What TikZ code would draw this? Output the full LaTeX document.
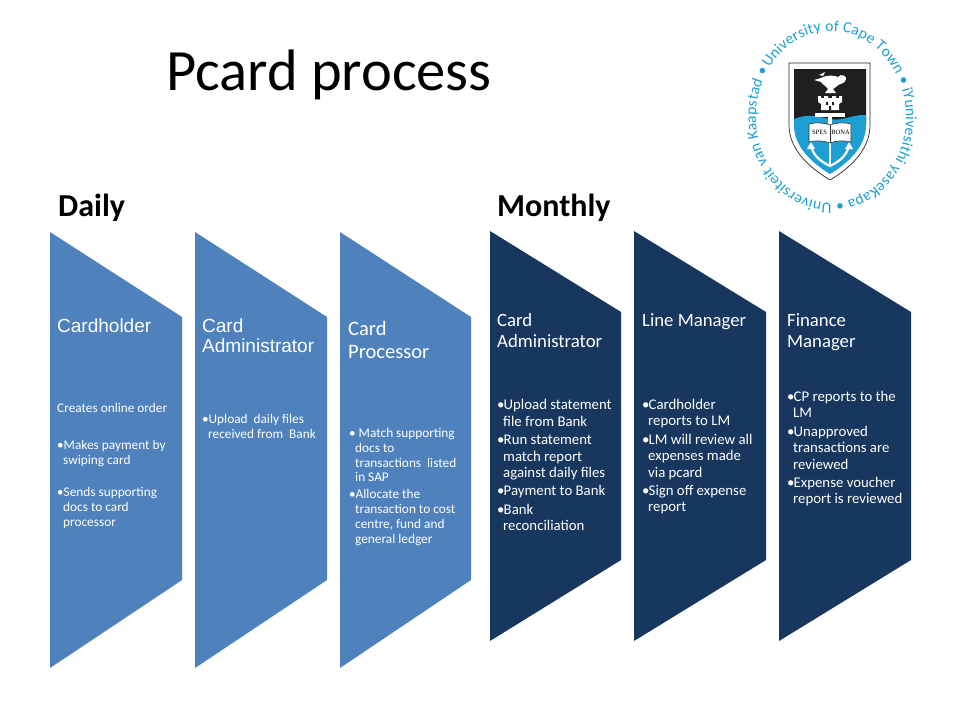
\documentclass[tikz,border=0pt]{standalone}
\usepackage{fontspec}
\setmainfont{Carlito}
\newfontfamily\arialfont{Liberation Sans}
\newfontfamily\bookfont{Liberation Serif}
\usepackage{xcolor}
\usetikzlibrary{decorations.text, positioning}
\definecolor{lightblue}{HTML}{4F81BD}
\definecolor{darkblue}{HTML}{17375E}
\definecolor{capeblue}{HTML}{1E9FD3}
\newcommand{\bul}{\makebox[6.5pt][l]{\textbullet}}
\newcommand{\ind}{\hspace*{6pt}}
\tikzset{
  lightpanel/.style={fill=lightblue},
  darkpanel/.style={fill=darkblue},
  heading/.style={anchor=north west, inner sep=0pt, align=left, text=white, font=\fontsize{18.75}{21}\selectfont},
  arialhead/.style={heading, font=\arialfont\fontsize{19}{20}\selectfont},
  smallbody/.style={anchor=north west, inner sep=0pt, align=left, text=white, font=\fontsize{13.3}{14.8}\selectfont},
  bigbody/.style={anchor=north west, inner sep=0pt, align=left, text=white, font=\fontsize{14.8}{16.4}\selectfont},
  section/.style={anchor=west, inner sep=0pt, font=\bfseries\fontsize{32}{38}\selectfont}
}
\begin{document}
\begin{tikzpicture}[x=1pt,y=-1pt]
\useasboundingbox (0,0) rectangle (960,720);
% panels
\foreach \x/\w in {50/132,195/132,340/131}
  \fill[lightpanel] (\x,232) -- ++(\w,85) -- ++(0,263) -- ++(-\w,88) -- cycle;
\foreach \x/\w in {490/131,634/132,779/132}
  \fill[darkpanel] (\x,231) -- ++(\w,81) -- ++(0,248) -- ++(-\w,81) -- cycle;
% titles
\node[anchor=west, inner sep=0pt, font=\fontsize{58.5}{70}\selectfont] (title) at (166,75) {Pcard process};
\node[section] (daily) at (58,208) {Daily};
\node[section] (monthly) at (497,208) {Monthly};
% headings
\node[arialhead] (holder) at (57,319) {Cardholder};
\node[arialhead] (admin) at (202,319) {Card\\Administrator};
\node[heading, font=\fontsize{20.5}{23}\selectfont] (proc) at (348,321) {Card\\Processor};
\node[heading] (adminb) at (497,313) {Card\\Administrator};
\node[heading] (line) at (642,313) {Line Manager};
\node[heading] (fin) at (787,313) {Finance\\Manager};
% body text
\node[smallbody] (holdertxt) at (57,403) {Creates online order\\[22pt]
  \bul Makes payment by\\ \ind swiping card\\[18pt]
  \bul Sends supporting\\ \ind docs to card\\ \ind processor};
\node[smallbody] (admintxt) at (202,414) {\bul Upload\ \ daily files\\ \ind received from\ \ Bank};
\node[smallbody] (proctxt) at (349,428) {\bul\ Match supporting\\ \ind docs to\\ \ind transactions\ \ listed\\ \ind in SAP\\[2pt]
  \bul Allocate the\\ \ind transaction to cost\\ \ind centre, fund and\\ \ind general ledger};
\node[bigbody] (adminbtxt) at (497,399.5) {\bul Upload statement\\ \ind file from Bank\\[2pt]
  \bul Run statement\\ \ind match report\\ \ind against daily files\\[2pt]
  \bul Payment to Bank\\[2pt]
  \bul Bank\\ \ind reconciliation};
\node[bigbody] (linetxt) at (642,399) {\bul Cardholder\\ \ind reports to LM\\[2pt]
  \bul LM will review all\\ \ind expenses made\\ \ind via pcard\\[2pt]
  \bul Sign off expense\\ \ind report};
\node[bigbody] (fintxt) at (787,391) {\bul CP reports to the\\ \ind LM\\[2pt]
  \bul Unapproved\\ \ind transactions are\\ \ind reviewed\\[2pt]
  \bul Expense voucher\\ \ind report is reviewed};
% ring of the crest
\begin{scope}[shift={(831,117)},y=1pt]
\path[decorate, decoration={text along path, text align={fit to path},
  text={|\fontsize{15.6}{18}\selectfont\color{capeblue}|University of Cape Town • iYunivesithi yaseKapa • Universiteit van Kaapstad •}}]
  (145:75pt and 86pt) arc[start angle=145, delta angle=-358, x radius=75pt, y radius=86pt];
\end{scope}
% crest
\draw[black!85, line width=0.7pt, fill=white] (789,63) -- (870,63) -- (870,125) .. controls (870,150) and (850,168) .. (830,180) .. controls (810,168) and (789,150) .. (789,125) -- cycle;
\begin{scope}
\clip (794,69) -- (866,69) -- (866,125) .. controls (866,147) and (848,163) .. (830,174) .. controls (812,163) and (794,147) .. (794,125) -- cycle;
\fill[black!88] (790,65) rectangle (870,125);
\fill[capeblue] (790,180) -- (790,121) .. controls (805,113) and (815,116) .. (830,119) .. controls (845,122) and (855,112) .. (870,116) -- (870,180) -- cycle;
\end{scope}
% lamp
\fill[white] (821,78) .. controls (826,75) and (834,75) .. (838,77) .. controls (841,73) and (847,76) .. (846,79) .. controls (845,84) and (841,83) .. (838,85) .. controls (836,88) and (833,88) .. (833,89) -- (836,93) -- (825,93) -- (828,89) .. controls (826,86) and (822,84) .. (821,82) -- (814,80) -- cycle;
\fill[white] (819,75) -- (825,72) -- (823,76) -- cycle;
% castle
\fill[white] (818,96) -- (821,96) -- (821,98) -- (824,98) -- (824,96) -- (828,96) -- (828,98) -- (832,98) -- (832,96) -- (836,96) -- (836,98) -- (839,98) -- (839,96) -- (842,96) -- (842,102) -- (839,104) -- (839,110) -- (821,110) -- (821,104) -- (818,102) -- cycle;
\fill[black!88] (826,102) rectangle (828,105) (832,102) rectangle (834,105) (829,106) rectangle (831,110);
% scroll and anchor
\fill[white] (815,113) rectangle (845,117);
\fill[white] (828,117) rectangle (832,125);
\draw[white, line width=2.4pt] (830,140) -- (830,166);
\draw[white, line width=2.2pt] (811,146) .. controls (814,158) and (824,163) .. (830,166) .. controls (836,163) and (846,158) .. (849,146);
\fill[white] (807,149) -- (811,142) -- (815,149) -- cycle;
\fill[white] (845,149) -- (849,142) -- (853,149) -- cycle;
% book
\draw[black!80, fill=white, line width=0.6pt] (809,124) .. controls (817,122) and (825,123) .. (830,125) .. controls (835,123) and (843,122) .. (851,124) -- (851,142) .. controls (843,140) and (835,141) .. (830,143) .. controls (825,141) and (817,140) .. (809,142) -- cycle;
\draw[black!80, line width=0.5pt] (830,125) -- (830,143);
\node[inner sep=0pt, font=\bookfont\fontsize{6.5}{7}\selectfont] (spes) at (819.5,132.5) {SPES};
\node[inner sep=0pt, font=\bookfont\fontsize{6.5}{7}\selectfont] (bona) at (840.5,132.5) {BONA};
\end{tikzpicture}
\end{document}
